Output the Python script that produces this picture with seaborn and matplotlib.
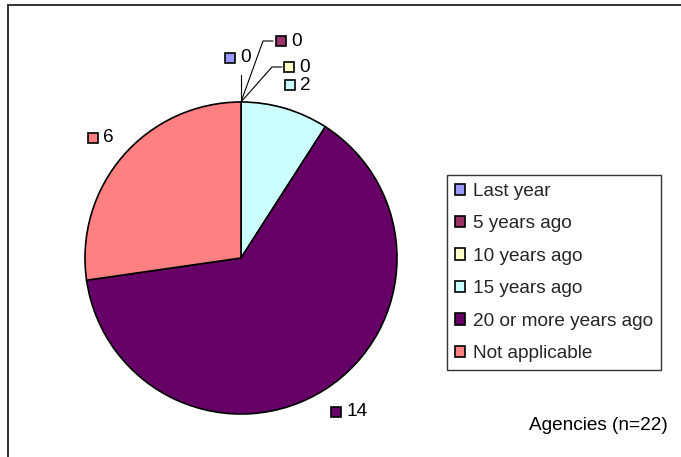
import matplotlib
matplotlib.use("Agg")
import matplotlib.pyplot as plt
from matplotlib.patches import Rectangle
import seaborn as sns

categories = ["Last year", "5 years ago", "10 years ago", "15 years ago",
              "20 or more years ago", "Not applicable"]
values = [0, 0, 0, 2, 14, 6]
colors = ["#9999FF", "#993366", "#FFFFCC", "#CCFFFF", "#660066", "#FF8080"]
note = "Agencies (n=22)"

sns.set_theme(style="white")
plt.rcParams["font.family"] = ["Liberation Sans", "DejaVu Sans"]

W, H = 681, 457
fig = plt.figure(figsize=(W / 100, H / 100), dpi=100)
ax = fig.add_axes([0, 0, 1, 1])
ax.set_xlim(0, W)
ax.set_ylim(0, H)
ax.set_aspect("equal")
ax.axis("off")

def Y(py):
    return H - py

# outer chart border (only top/left visible in the reference)
ax.add_patch(Rectangle((8, Y(700)), 1000, 695, fill=False, ec="#333333", lw=1.4))

cx, cy, r = 241, Y(258), 156
wedges, _ = ax.pie(values, colors=colors, startangle=90, counterclock=False,
                   center=(cx, cy), radius=r,
                   wedgeprops=dict(edgecolor="black", linewidth=1.2))
ax.set_xlim(0, W)
ax.set_ylim(0, H)

fs = 13.7
# data labels: (key center x, key center y) in pixels
label_pos = [(230, 58), (281, 41), (289, 67), (290, 85), (336, 412), (93, 138)]
for (kx, ky), v, c in zip(label_pos, values, colors):
    ax.add_patch(Rectangle((kx - 5, Y(ky) - 5), 10, 10, fc=c, ec="black", lw=1.2))
    ax.text(kx + 10, Y(ky), str(v), fontsize=fs, va="center", ha="left", color="black")

# leader lines for zero-valued slices
top = (cx, Y(102))
ax.plot([top[0], 241], [top[1], Y(75)], color="black", lw=0.8)
ax.plot([top[0], 263, 273], [top[1], Y(41), Y(41)], color="black", lw=0.8)
ax.plot([top[0], 272, 282], [top[1], Y(67), Y(67)], color="black", lw=0.8)

leg = ax.legend(wedges, categories, loc="upper left",
                bbox_to_anchor=(447 / W, 1 - 175 / H), bbox_transform=fig.transFigure,
                frameon=True, fancybox=False, shadow=False, fontsize=fs,
                handlelength=0.55, handleheight=0.55, handletextpad=0.4,
                labelspacing=0.81, borderpad=0.42, borderaxespad=0)
leg.get_frame().set_edgecolor("black")
leg.get_frame().set_linewidth(1.0)
for h in leg.legend_handles:
    h.set_linewidth(1.2)
    h.set_edgecolor("black")

ax.text(529, Y(425), note, fontsize=fs, va="center", ha="left", color="black")

fig.savefig("out.png", dpi=100)
